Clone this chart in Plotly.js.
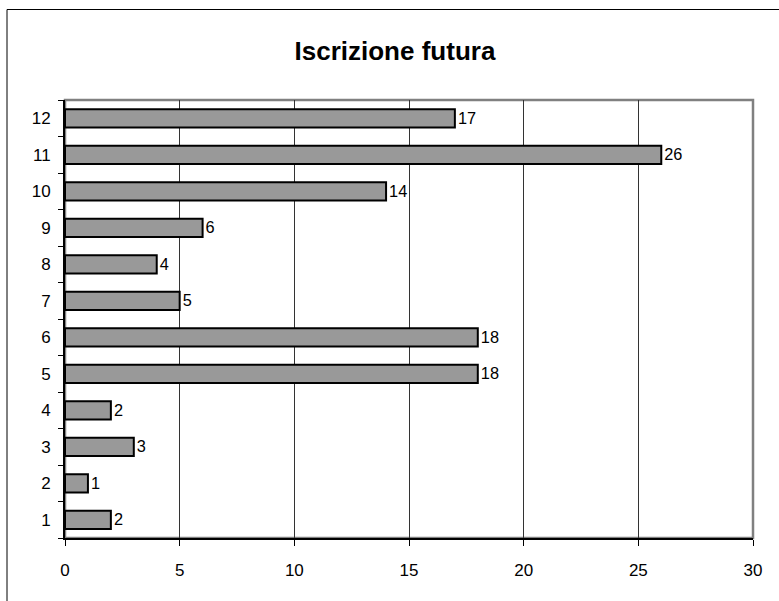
<!DOCTYPE html>
<html>
<head>
<meta charset="utf-8">
<script src="https://cdn.plot.ly/plotly-3.0.1.min.js"></script>
<style>html,body{margin:0;padding:0;background:#fff;}</style>
</head>
<body>
<div id="chart" style="width:779px;height:601px;"></div>
<script>
const categories = ['1','2','3','4','5','6','7','8','9','10','11','12'];
const values = [2, 1, 3, 2, 18, 18, 5, 4, 6, 14, 26, 17];
const xTicks = [0, 5, 10, 15, 20, 25, 30];
const titleText = 'Iscrizione futura';

const trace = {
  type: 'bar',
  orientation: 'h',
  y: categories,
  x: values,
  text: values.map(String),
  textposition: 'outside',
  cliponaxis: false,
  textfont: {family: 'Liberation Sans, Arial, sans-serif', size: 17, color: '#000'},
  marker: {color: '#999999', line: {color: '#000', width: 2}},
  hoverinfo: 'none'
};

const layout = {
  width: 779, height: 601,
  margin: {l: 65, r: 26, t: 100, b: 63},
  paper_bgcolor: '#fff', plot_bgcolor: '#fff',
  showlegend: false,
  bargap: 0.5,
  font: {family: 'Liberation Sans, Arial, sans-serif', size: 17, color: '#000'},
  title: {text: '<b>' + titleText + '</b>', font: {size: 26, color: '#000'}, x: 0.507, xanchor: 'center', y: 0.915, yanchor: 'middle'},
  xaxis: {
    range: [0, 30], tickvals: xTicks, ticktext: xTicks.map(String),
    showgrid: true, gridcolor: '#333', gridwidth: 1, zeroline: false,
    showline: true, linecolor: '#000', linewidth: 2,
    ticks: 'outside', ticklen: 6, tickcolor: '#000', ticklabelstandoff: 10
  },
  yaxis: {
    type: 'category', categoryarray: categories,
    showgrid: false, zeroline: false,
    showline: true, linecolor: '#000', linewidth: 2,
    ticks: 'outside', ticklen: 5, tickcolor: '#000', tickson: 'boundaries',
    ticklabelstandoff: 9
  },
  shapes: [
    {type: 'rect', xref: 'paper', yref: 'paper', x0: 0, x1: 1, y0: 0, y1: 1, line: {color: '#808080', width: 2.5}, layer: 'below'},
    {type: 'line', xref: 'paper', yref: 'paper', x0: -0.0843, x1: -0.0843, y0: 1.2066, y1: -0.2, line: {color: '#000', width: 1}},
    {type: 'line', xref: 'paper', yref: 'paper', x0: -0.0843, x1: 1.1, y0: 1.2066, y1: 1.2066, line: {color: '#000', width: 1}}
  ]
};

Plotly.newPlot('chart', [trace], layout, {staticPlot: true, displayModeBar: false});
</script>
</body>
</html>
